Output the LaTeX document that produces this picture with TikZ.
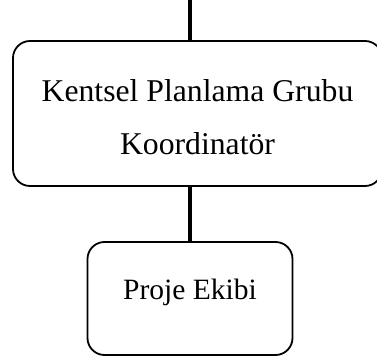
\documentclass[tikz,border=0pt]{standalone}
\usepackage{fontspec}
\setmainfont{Liberation Serif}
\begin{document}
\begin{tikzpicture}[x=1pt,y=1pt,
  unitbox/.style={draw=black, line width=1.8pt, rounded corners=#1,
    align=center, inner sep=0pt,
    font=\fontsize{31.7}{53}\selectfont},
  link/.style={draw=black, line width=3.6pt}]
  \useasboundingbox (0,0) rectangle (377,361);
  % coordinator box (its right side runs past the page edge)
  \node[unitbox=17pt, minimum width=369pt, minimum height=145pt] (coord)
        at (197.5,247.5)
        {\rule{0pt}{30pt}Kentsel Planlama Grubu\\Koordinatör};
  % project team box
  \node[unitbox=17pt, minimum width=205pt, minimum height=113pt,
        text height=12pt, text depth=9pt,
        font=\fontsize{29.5}{35}\selectfont] (team) at (190,62.5) {Proje Ekibi};
  % connectors
  \coordinate (top) at (190,361);
  \draw[link] (top) -- (top |- coord.north);
  \draw[link] (coord.south -| team.north) -- (team.north);
\end{tikzpicture}
\end{document}
